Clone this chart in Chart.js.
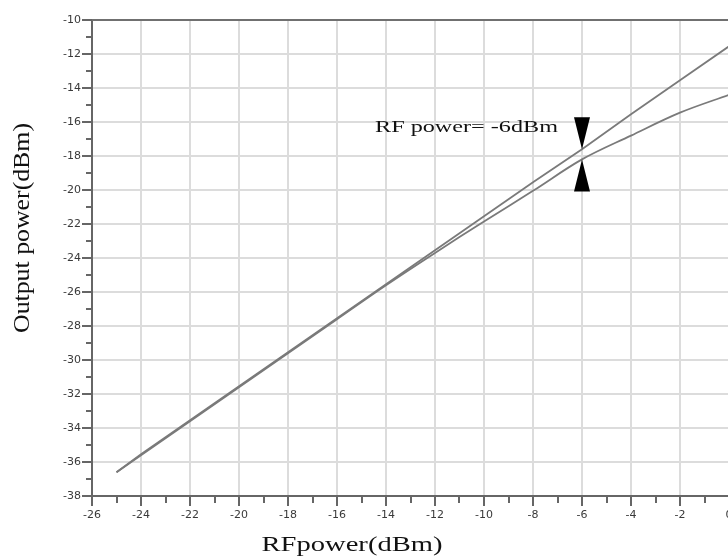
<!DOCTYPE html>
<html>
<head>
<meta charset="utf-8">
<script src="https://cdn.jsdelivr.net/npm/chart.js@4/dist/chart.umd.min.js"></script>
<style>
  html, body { margin: 0; padding: 0; background: #fff; overflow: hidden; }
  #wrap { width: 728px; height: 556px; overflow: hidden; }
  canvas { display: block; }
</style>
</head>
<body>
<div id="wrap"><canvas id="chart" width="736" height="556"></canvas></div>
<script>
// RF input power (dBm) at which the output was read
const rfPower = [-25, -24, -22, -20, -18, -16, -14, -12, -10, -8, -6, -4, -2, 0];
// Ideal linear response (dBm)
const linearOut = [-36.6, -35.55, -33.55, -31.55, -29.55, -27.55, -25.55, -23.55, -21.55, -19.55, -17.6, -15.55, -13.55, -11.55];
// Measured output power (dBm), compressing at high drive
const measuredOut = [-36.6, -35.6, -33.6, -31.6, -29.6, -27.6, -25.6, -23.7, -21.85, -20.05, -18.2, -16.8, -15.45, -14.4];
// Axis ranges and the marked input level
const xTicks = { min: -26, max: 0, step: 2 };
const yTicks = { min: -38, max: -10, step: 2 };
const markerPower = -6;

const markerLabel = 'RF power= ' + markerPower + 'dBm';
const xTitle = 'RFpower(dBm)';
const yTitle = 'Output power(dBm)';

const toPoints = (ys) => rfPower.map((x, i) => ({ x: x, y: ys[i] }));

// Draws a string horizontally squeezed/stretched to a given width
function fitText(ctx, text, cx, baseY, width, font, angle) {
  ctx.save();
  ctx.font = font;
  ctx.translate(cx, baseY);
  if (angle) ctx.rotate(angle);
  const w = ctx.measureText(text).width;
  ctx.scale(width / w, 1);
  ctx.textBaseline = 'alphabetic';
  ctx.textAlign = 'left';
  ctx.fillText(text, -w / 2, 0);
  ctx.restore();
}

const decorations = {
  id: 'decorations',
  beforeDatasetsDraw(chart) {
    const { ctx, chartArea: a, scales } = chart;
    const xs = scales.x, ys = scales.y;
    ctx.save();
    // frame line along the top of the plot
    ctx.strokeStyle = '#707070';
    ctx.lineWidth = 2;
    ctx.beginPath();
    ctx.moveTo(a.left, a.top);
    ctx.lineTo(a.right, a.top);
    ctx.stroke();
    // minor ticks at odd values
    ctx.strokeStyle = '#666';
    ctx.lineWidth = 2;
    ctx.beginPath();
    for (let v = xTicks.min + 1; v < xTicks.max; v += xTicks.step) {
      const px = Math.round(xs.getPixelForValue(v));
      ctx.moveTo(px, a.bottom);
      ctx.lineTo(px, a.bottom + 7);
    }
    for (let v = yTicks.min + 1; v < yTicks.max; v += yTicks.step) {
      const py = Math.round(ys.getPixelForValue(v));
      ctx.moveTo(a.left - 6, py);
      ctx.lineTo(a.left, py);
    }
    ctx.stroke();
    ctx.restore();
  },
  afterDraw(chart) {
    const { ctx, scales } = chart;
    const xs = scales.x, ys = scales.y;
    const i = rfPower.indexOf(markerPower);
    const mx = xs.getPixelForValue(markerPower);
    const upTip = ys.getPixelForValue(linearOut[i]);
    const lowTip = ys.getPixelForValue(measuredOut[i]);
    const h = 32, half = 8;
    ctx.save();
    ctx.fillStyle = '#000';
    // arrow pointing down onto the linear line
    ctx.beginPath();
    ctx.moveTo(mx - half, upTip - h);
    ctx.lineTo(mx + half, upTip - h);
    ctx.lineTo(mx, upTip);
    ctx.closePath();
    ctx.fill();
    // arrow pointing up onto the measured curve
    ctx.beginPath();
    ctx.moveTo(mx - half, lowTip + h);
    ctx.lineTo(mx + half, lowTip + h);
    ctx.lineTo(mx, lowTip);
    ctx.closePath();
    ctx.fill();
    // marker label
    ctx.fillStyle = '#111';
    const labW = 183;
    fitText(ctx, markerLabel, mx - 24 - labW / 2, upTip - 17, labW, '17px "Liberation Serif"', 0);
    // axis titles
    fitText(ctx, xTitle, 352, 551, 181, '21px "Liberation Serif"', 0);
    fitText(ctx, yTitle, 29, 228, 210, '23px "Liberation Serif"', -Math.PI / 2);
    ctx.restore();
  }
};

const tickFont = { family: 'DejaVu Sans', size: 11 };

new Chart(document.getElementById('chart'), {
  type: 'line',
  data: {
    datasets: [
      {
        label: 'Linear',
        data: toPoints(linearOut),
        borderColor: '#7a7a7a',
        borderWidth: 1.8,
        pointRadius: 0,
        fill: false
      },
      {
        label: 'Measured',
        data: toPoints(measuredOut),
        borderColor: '#7a7a7a',
        borderWidth: 1.8,
        pointRadius: 0,
        tension: 0.35,
        fill: false
      }
    ]
  },
  options: {
    responsive: false,
    animation: false,
    devicePixelRatio: 1,
    layout: { padding: { top: 20, right: 7, left: 0, bottom: 0 } },
    plugins: { legend: { display: false }, tooltip: { enabled: false } },
    scales: {
      x: {
        type: 'linear',
        min: xTicks.min,
        max: xTicks.max,
        afterFit(s) { s.height = 60; },
        ticks: {
          stepSize: xTicks.step,
          autoSkip: false,
          maxRotation: 0,
          padding: 3,
          color: '#3a3a3a',
          font: tickFont
        },
        grid: {
          color: '#dcdcdc',
          lineWidth: 2,
          drawTicks: true,
          tickLength: 10,
          tickColor: '#666',
          tickWidth: 2
        },
        border: { color: '#666', width: 2 }
      },
      y: {
        type: 'linear',
        min: yTicks.min,
        max: yTicks.max,
        afterFit(s) { s.width = 92; },
        ticks: {
          stepSize: yTicks.step,
          autoSkip: false,
          padding: 1,
          color: '#3a3a3a',
          font: tickFont
        },
        grid: {
          color: '#dcdcdc',
          lineWidth: 2,
          drawTicks: true,
          tickLength: 10,
          tickColor: '#666',
          tickWidth: 2
        },
        border: { color: '#666', width: 2 }
      }
    }
  },
  plugins: [decorations]
});
</script>
</body>
</html>
